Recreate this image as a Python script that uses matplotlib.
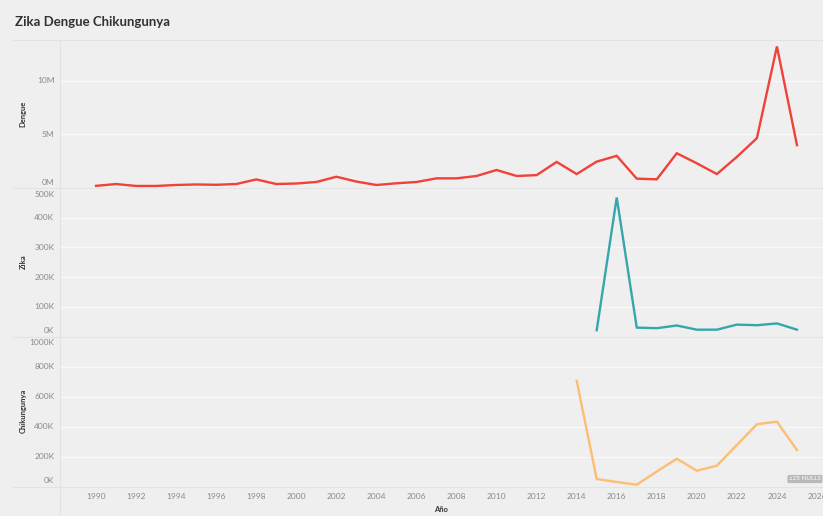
import matplotlib.pyplot as plt
from matplotlib.lines import Line2D

# valores (casos por año)
anios_dengue = list(range(1990, 2026))
dengue = [0.20, 0.37, 0.19, 0.19, 0.28, 0.33, 0.30, 0.37, 0.80, 0.37,
          0.42, 0.56, 1.05, 0.60, 0.28, 0.44, 0.56, 0.90, 0.90, 1.12,
          1.68, 1.12, 1.20, 2.43, 1.30, 2.46, 3.00, 0.87, 0.81, 3.24,
          2.30, 1.30, 2.90, 4.65, 13.2, 4.00]  # millones

anios_zika = list(range(2015, 2026))
zika = [21, 468, 30, 28, 37, 23, 23, 40, 38, 44, 23]  # miles

anios_chik = list(range(2014, 2026))
chik = [705, 50, 30, 12, 100, 185, 105, 139, 277, 415, 432, 243]  # miles

ticks_x = list(range(1990, 2027, 2))
ticks_dengue = [0, 5, 10]
ticks_zika = [0, 100, 200, 300, 400, 500]
ticks_chik = [0, 200, 400, 600, 800, 1000]

W, H = 823, 516
fondo = '#efefef'
plt.rcParams['font.family'] = ['Lato', 'DejaVu Sans']

fig = plt.figure(figsize=(W / 100, H / 100), dpi=100, facecolor=fondo)

def caja(top, bottom):
    return [60 / W, 1 - bottom / H, (W - 60) / W, (bottom - top) / H]

ax1 = fig.add_axes(caja(40, 188))
ax2 = fig.add_axes(caja(188, 336.5), sharex=ax1)
ax3 = fig.add_axes(caja(336.5, 486.5), sharex=ax1)

ax1.plot(anios_dengue, dengue, color='#f0413a', lw=1.7, solid_joinstyle='miter')
ax2.plot(anios_zika, zika, color='#34a7ab', lw=1.7, solid_joinstyle='miter')
ax3.plot(anios_chik, chik, color='#fdbd72', lw=1.7, solid_joinstyle='miter')

ax1.set_ylim(0, 13.8)
ax2.set_ylim(0, 495)
ax3.set_ylim(0, 1000)


def eje_y(ax, ticks, sufijo):
    ax.set_yticks(ticks)
    ax.set_yticklabels([])
    lo, hi = ax.get_ylim()
    for v in ticks:
        dy = 0
        if v == lo:
            dy = 4.2   # Tableau sube la etiqueta del cero
        elif v >= hi - (hi - lo) * 0.02:
            dy = -4.6  # y baja la del borde superior
        ax.annotate(f'{v}{sufijo}', xy=(0, v), xycoords=('axes fraction', 'data'),
                    xytext=(-4, dy), textcoords='offset points', ha='right',
                    va='center', fontsize=6, color='#8a8a8a', annotation_clip=False)


eje_y(ax1, ticks_dengue, 'M')
eje_y(ax2, ticks_zika, 'K')
eje_y(ax3, ticks_chik, 'K')

for ax in (ax1, ax2, ax3):
    ax.set_facecolor(fondo)
    for s in ax.spines.values():
        s.set_visible(False)
    ax.grid(axis='y', color='#f8f8f8', lw=1)
    ax.set_axisbelow(True)
    ax.tick_params(axis='both', length=0)
    ax.set_xlim(1988.2, 2026.3)

ax1.tick_params(axis='x', labelbottom=False)
ax2.tick_params(axis='x', labelbottom=False)
ax3.set_xticks(ticks_x)
ax3.set_xticklabels([str(a) for a in ticks_x])
ax3.tick_params(axis='x', labelsize=6, labelcolor='#8a8a8a', pad=5)

# lineas divisorias estilo Tableau
for y in (40, 188, 336.5, 486.5):
    fig.add_artist(Line2D([13 / W, 1], [1 - y / H, 1 - y / H], color='#e3e3e3', lw=0.8))
fig.add_artist(Line2D([60 / W, 60 / W], [0, 1 - 40 / H], color='#e3e3e3', lw=0.8))

fig.text(15 / W, 1 - 22 / H, 'Zika Dengue Chikungunya', fontsize=9.5,
         fontweight='bold', color='#333333', va='center')

for nombre, yc in (('Dengue', 114), ('Zika', 262), ('Chikungunya', 411)):
    fig.text(23 / W, 1 - yc / H, nombre, rotation=90, fontsize=5.5,
             fontweight='bold', color='#333333', ha='center', va='center')

fig.text(441 / W, 1 - 510 / H, 'Año', fontsize=5.5, fontweight='bold',
         color='#333333', ha='center', va='center')

fig.text(789 / W, 1 - 479 / H, '≥25 NULLS', fontsize=4.5, color='white',
         va='center', ha='left',
         bbox=dict(boxstyle='round,pad=0.25', fc='#b9b9b9', ec='none'))

fig.savefig('out.png', dpi=100, facecolor=fondo)
